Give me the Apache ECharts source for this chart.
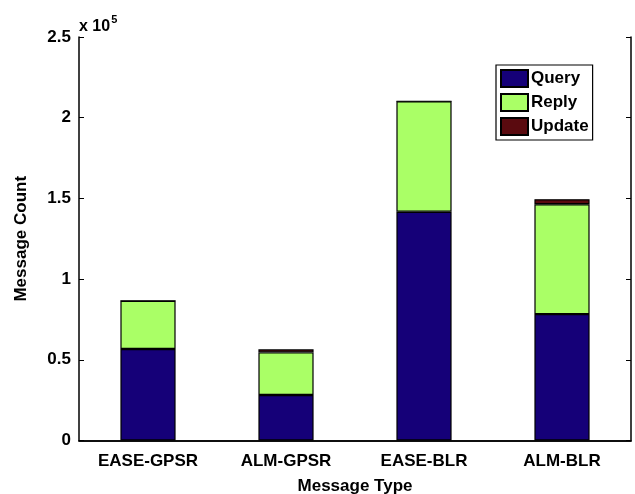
<!DOCTYPE html>
<html>
<head>
<meta charset="utf-8">
<script src="https://cdn.jsdelivr.net/npm/echarts@6/dist/echarts.min.js"></script>
<style>
  html, body { margin: 0; padding: 0; background: #fff; }
  #chart { width: 635px; height: 494px; }
</style>
</head>
<body>
<div id="chart"></div>
<script>
// Message counts per protocol, split by message kind
const categories = ['EASE-GPSR', 'ALM-GPSR', 'EASE-BLR', 'ALM-BLR'];
const queryCounts = [56700, 28200, 141700, 78300];
const replyCounts = [29900, 26400, 68500, 68100];
const updateCounts = [0, 1900, 0, 3100];
const yTicks = [0, 50000, 100000, 150000, 200000, 250000];

const FONT = '"Liberation Sans", Arial, Helvetica, sans-serif';
const chart = echarts.init(document.getElementById('chart'), null, { renderer: 'canvas' });

const bold = { fontFamily: FONT, fontWeight: 'bold', fontSize: 17, color: '#000' };
const edge = { borderColor: '#000', borderWidth: 1.2 };

function barSeries(name, data, color) {
  return {
    name: name,
    type: 'bar',
    stack: 'total',
    barWidth: '40%',
    data: data,
    itemStyle: Object.assign({ color: color }, edge),
    emphasis: { disabled: true }
  };
}

chart.setOption({
  animation: false,
  grid: { left: 79, right: 4, top: 37, bottom: 53.5, show: false, containLabel: false, outerBoundsMode: 'none' },
  legend: {
    orient: 'vertical',
    left: 496, top: 65,
    itemWidth: 27, itemHeight: 17, itemGap: 5,
    padding: [4, 4, 4, 4],
    backgroundColor: '#fff',
    borderColor: '#000', borderWidth: 1.2,
    icon: 'rect',
    textStyle: Object.assign({}, bold, { padding: [0, 0, 0, -2] }),
    data: ['Query', 'Reply', 'Update']
  },
  xAxis: [{
    type: 'category',
    data: categories,
    position: 'bottom',
    name: 'Message Type',
    nameLocation: 'middle',
    nameGap: 37,
    nameTextStyle: bold,
    axisLine: { lineStyle: { color: '#000', width: 1.5 } },
    axisTick: { inside: true, alignWithLabel: true, length: 5, lineStyle: { color: '#000' } },
    axisLabel: Object.assign({ margin: 12 }, bold),
    splitLine: { show: false }
  }, {
    type: 'category',
    data: categories,
    position: 'top',
    axisLine: { lineStyle: { color: '#000', width: 1.5 } },
    axisTick: { inside: true, alignWithLabel: true, length: 5, lineStyle: { color: '#000' } },
    axisLabel: { show: false }
  }],
  yAxis: [{
    type: 'value',
    min: yTicks[0], max: yTicks[yTicks.length - 1], interval: yTicks[1] - yTicks[0],
    name: 'Message Count',
    nameLocation: 'middle',
    nameGap: 49,
    nameTextStyle: bold,
    axisLine: { show: true, lineStyle: { color: '#000', width: 1.5 } },
    axisTick: { show: true, inside: true, length: 5, lineStyle: { color: '#000' } },
    axisLabel: Object.assign({ margin: 8, formatter: v => String(v / 1e5) }, bold),
    splitLine: { show: false }
  }, {
    type: 'value',
    position: 'right',
    min: yTicks[0], max: yTicks[yTicks.length - 1], interval: yTicks[1] - yTicks[0],
    axisLine: { show: true, lineStyle: { color: '#000', width: 1.5 } },
    axisTick: { show: true, inside: true, length: 5, lineStyle: { color: '#000' } },
    axisLabel: { show: false },
    splitLine: { show: false }
  }],
  graphic: [{
    type: 'text',
    left: 79, top: 14,
    style: {
      text: '{b|x 10}{s|5}',
      rich: {
        b: { fontFamily: FONT, fontWeight: 'bold', fontSize: 16, fill: '#000', verticalAlign: 'bottom' },
        s: { fontFamily: FONT, fontWeight: 'bold', fontSize: 11, fill: '#000', padding: [0, 0, 10, 1] }
      }
    }
  }],
  series: [
    barSeries('Query', queryCounts, '#150078'),
    barSeries('Reply', replyCounts, '#aaff66'),
    barSeries('Update', updateCounts, '#5a0a0f')
  ]
});
</script>
</body>
</html>
